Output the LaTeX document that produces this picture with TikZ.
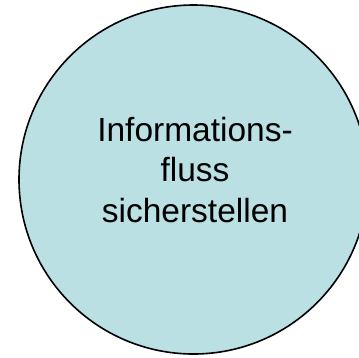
\documentclass[tikz,border=0pt]{standalone}
\usepackage{fontspec}
\setmainfont{Liberation Sans}
\definecolor{bubble}{RGB}{187,224,227}
\tikzset{
  bubblenode/.style={circle, draw=black, line width=1.6pt, fill=bubble, minimum size=349pt, inner sep=0pt},
  labeltext/.style={align=center, font=\fontsize{33.5}{40.5}\selectfont, inner sep=0pt}
}
\begin{document}
\begin{tikzpicture}[x=1pt,y=-1pt]
\clip (0,0) rectangle (359,357);
\fill[white] (0,0) rectangle (359,357);
\node[bubblenode] (c) at (193.5,179.5) {};
\node[labeltext, anchor=base] (t) at (195,222) {Informations-\\fluss\\sicherstellen};
\end{tikzpicture}
\end{document}
